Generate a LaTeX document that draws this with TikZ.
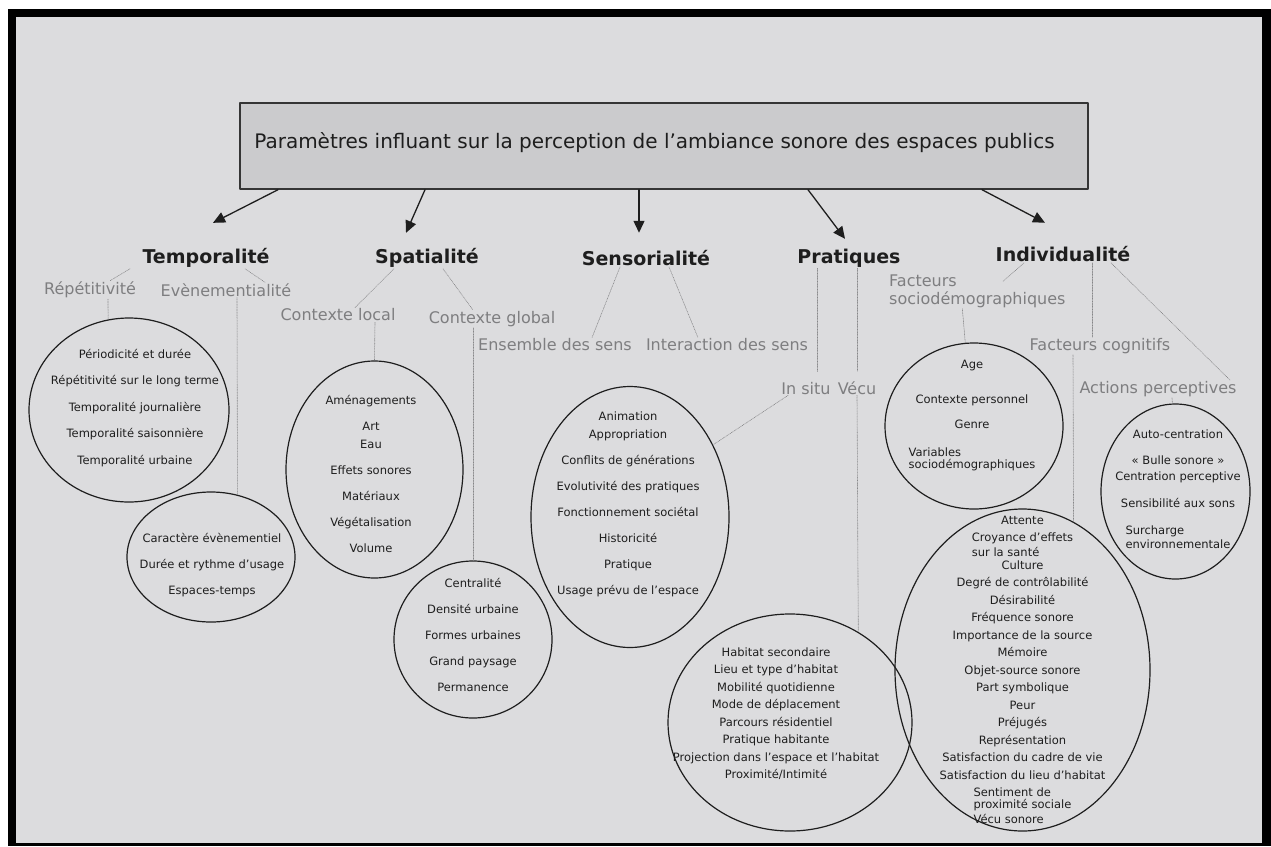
\documentclass[tikz,border=0pt]{standalone}
\usepackage{fontspec}
\setmainfont{DejaVu Sans}
\usetikzlibrary{arrows.meta,shapes.geometric}
\definecolor{fond}{HTML}{DCDCDE}
\definecolor{boite}{HTML}{CBCBCD}
\definecolor{encre}{HTML}{1E1E1E}
\definecolor{gristexte}{HTML}{7E7E80}
\definecolor{trait}{HTML}{858587}
\begin{document}
\begin{tikzpicture}[x=1pt,y=-1pt,line cap=round,line join=round,>={Triangle[length=12pt,width=11pt]},
    cadre/.style={draw=encre!90,line width=1.4pt,fill=boite,inner sep=0pt},
    categ/.style={font=\bfseries\fontsize{19}{23}\selectfont,text=encre,inner sep=1pt},
    sous/.style={font=\fontsize{16}{18}\selectfont,text=gristexte,inner sep=1pt},
    bulle/.style={draw=encre,line width=1.2pt,ellipse,inner sep=0pt},
    liste/.style={font=\fontsize{11.5}{17.5}\selectfont,text=encre,align=center,inner sep=0pt},
    lien/.style={draw=trait,line width=0.6pt,densely dotted},
    fleche/.style={->,draw=encre,line width=1.3pt}]
\useasboundingbox (0,0) rectangle (1271,846);
\fill[white] (0,0) rectangle (1271,846);
\fill[black] (8,9) rectangle (1271,846);
\fill[fond] (16,17) rectangle (1262,843);

\node[cadre,minimum width=848pt,minimum height=86pt] (titre) at (664,146) {};
\node[font=\fontsize{20}{24}\selectfont,text=encre] (intitule) at (654.5,143) {Paramètres influant sur la perception de l’ambiance sonore des espaces publics};

\node[categ] (temp) at (206,258) {Temporalité};
\node[categ] (spat) at (427,258) {Spatialité};
\node[categ] (sens) at (646,258) {Sensorialité};
\node[categ] (prat) at (849,258) {Pratiques};
\node[categ] (indiv) at (1063,254) {Individualité};

\draw[fleche] ([xshift=-386pt]titre.south) -- ([shift={(7pt,24.4pt)}]temp.north);
\draw[fleche] ([xshift=-239pt]titre.south) -- ([shift={(-21pt,14.4pt)}]spat.north);
\draw[fleche] ([xshift=-25pt]titre.south) -- ([shift={(-7pt,16.3pt)}]sens.north);
\draw[fleche] ([xshift=144pt]titre.south) -- ([shift={(-4pt,8.8pt)}]prat.north);
\draw[fleche] ([xshift=318pt]titre.south) -- ([shift={(-18pt,22.3pt)}]indiv.north);

\node[sous] (rep) at (90,290) {Répétitivité};
\node[sous] (even) at (226,290) {Evènementialité};
\node[sous] (cloc) at (338,315) {Contexte local};
\node[sous] (cglob) at (492,319) {Contexte global};
\node[sous] (ens) at (555,345) {Ensemble des sens};
\node[sous] (inter) at (727,345) {Interaction des sens};
\node[sous,anchor=base] (insitu) at (806,394) {In situ};
\node[sous,anchor=base] (vecu) at (857,394) {Vécu};
\node[sous,align=left,anchor=west] (fsoc) at (888,291) {Facteurs\\sociodémographiques};
\node[sous] (fcog) at (1100,346) {Facteurs cognitifs};
\node[sous] (apercep) at (1158,389) {Actions perceptives};

\node[bulle,minimum width=200pt,minimum height=184pt] (bRep) at (129,410) {};
\node[bulle,minimum width=168pt,minimum height=130pt] (bEve) at (211,557) {};
\node[bulle,minimum width=177pt,minimum height=217pt] (bLoc) at (374.5,469.5) {};
\node[bulle,minimum width=158pt,minimum height=157pt] (bGlo) at (473,639.5) {};
\node[bulle,minimum width=198pt,minimum height=261pt] (bSitu) at (630,517) {};
\node[bulle,minimum width=244pt,minimum height=217pt] (bVecu) at (790,722.5) {};
\node[bulle,minimum width=178pt,minimum height=166pt] (bSoc) at (974,426) {};
\node[bulle,minimum width=149pt,minimum height=175pt] (bAct) at (1175.5,491.5) {};
\node[bulle,minimum width=255pt,minimum height=322pt] (bCog) at (1022.5,670) {};

\node[liste] (lRep) at (135,408) {Périodicité et durée\\[9pt]Répétitivité sur le long terme\\[9pt]Temporalité journalière\\[9pt]Temporalité saisonnière\\[9pt]Temporalité urbaine};
\node[liste] (lEve) at (212,565) {Caractère évènementiel\\[8.5pt]Durée et rythme d'usage\\[8.5pt]Espaces-temps};
\node[liste] (lLoc) at (371,474) {Aménagements\\[8.5pt]Art\\Eau\\[8.5pt]Effets sonores\\[8.5pt]Matériaux\\[8.5pt]Végétalisation\\[8.5pt]Volume};
\node[liste] (lGlo) at (473,635) {Centralité\\[8.5pt]Densité urbaine\\[8.5pt]Formes urbaines\\[8.5pt]Grand paysage\\[8.5pt]Permanence};
\node[liste] (lSitu) at (628,504.5) {Animation\\Appropriation\\[8.5pt]Conflits de générations\\[8.5pt]Evolutivité des pratiques\\[8.5pt]Fonctionnement sociétal\\[8.5pt]Historicité\\[8.5pt]Pratique\\[8.5pt]Usage prévu de l'espace};
\node[liste] (lVecu) at (776,713.5) {Habitat secondaire\\Lieu et type d'habitat\\Mobilité quotidienne\\Mode de déplacement\\Parcours résidentiel\\Pratique habitante\\Projection dans l'espace et l'habitat\\Proximité/Intimité};
\node[liste] (lSoc) at (972,415.5) {Age\\[17.5pt]Contexte personnel\\[7.5pt]Genre\\[17.6pt]\shortstack[l]{Variables\\sociodémographiques}};
\node[liste] (lAct) at (1178,489.5) {Auto-centration\\[8.5pt]« Bulle sonore »\\[-1.5pt]Centration perceptive\\[9.5pt]Sensibilité aux sons\\[17.3pt]\shortstack[l]{Surcharge\\environnementale}};
\node[liste] (lCog) at (1022.5,670) {Attente\\[7pt]\shortstack[l]{Croyance d'effets\\sur la santé}\\[-4.5pt]Culture\\Degré de contrôlabilité\\Désirabilité\\Fréquence sonore\\Importance de la source\\Mémoire\\Objet-source sonore\\Part symbolique\\Peur\\Préjugés\\Représentation\\Satisfaction du cadre de vie\\Satisfaction du lieu d'habitat\\[7pt]\shortstack[l]{Sentiment de\\proximité sociale\\Vécu sonore}};

\draw[lien] ([xshift=-76pt]temp.south) -- ([xshift=20pt]rep.north);
\draw[lien] ([xshift=39pt]temp.south) -- ([xshift=39pt]even.north);
\draw[lien] ([xshift=-33pt]spat.south) -- ([xshift=17pt]cloc.north);
\draw[lien] ([xshift=16pt]spat.south) -- ([xshift=-19pt]cglob.north);
\draw[lien] ([xshift=-26pt]sens.south) -- ([xshift=37pt]ens.north);
\draw[lien] ([xshift=23pt]sens.south) -- ([xshift=-29pt]inter.north);
\draw[lien,shorten >=9pt] ([xshift=-32pt]prat.south) -- ([xshift=-32pt]prat.south |- insitu.north);
\draw[lien,shorten >=9pt] ([xshift=8pt]prat.south) -- ([xshift=8pt]prat.south |- vecu.north);
\draw[lien] ([xshift=-39pt]indiv.south) -- ([shift={(115pt,-8pt)}]fsoc.north west);
\draw[lien] ([xshift=29pt]indiv.south) -- ([xshift=29pt]indiv.south |- fcog.north);
\draw[lien] ([xshift=48pt]indiv.south) -- ([xshift=72pt]apercep.north);

\draw[lien] ([xshift=18pt]rep.south) -- (bRep.103);
\draw[lien] ([xshift=11pt]even.south) -- (bEve.67);
\draw[lien] ([xshift=37pt]cloc.south) -- (bLoc.north);
\draw[lien] ([xshift=-19pt]cglob.south) -- (bGlo.north);
\draw[lien] ([xshift=-18pt]insitu.south) -- (bSitu.41);
\draw[lien] (vecu.south) -- (bVecu.53);
\draw[lien] ([xshift=-15pt]fsoc.south) -- (bSoc.96);
\draw[lien] ([xshift=-27pt]fcog.south) -- (bCog.71);
\draw[lien] ([xshift=14pt]apercep.south) -- (bAct.92);
\end{tikzpicture}
\end{document}
